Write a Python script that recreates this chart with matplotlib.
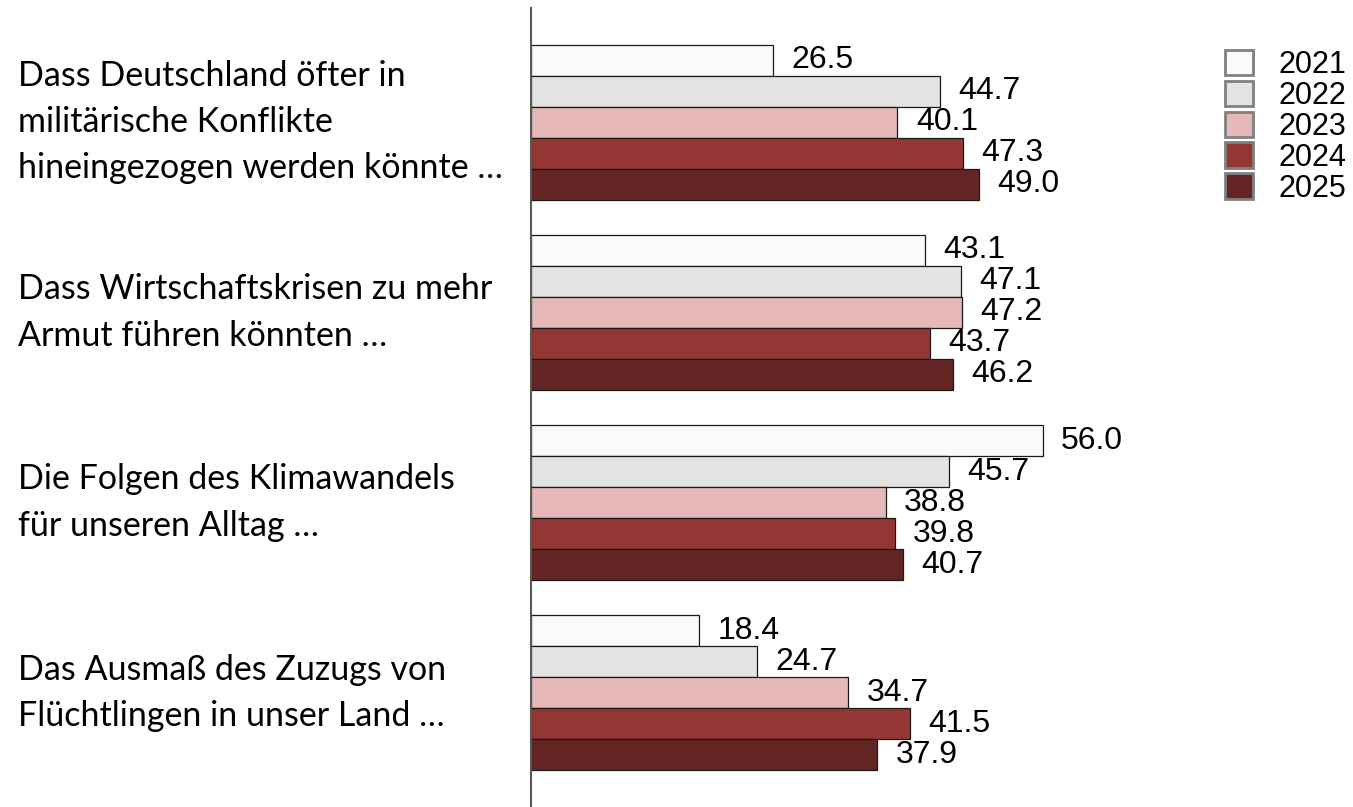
import matplotlib
matplotlib.use('Agg')
import matplotlib.pyplot as plt
import matplotlib.transforms as mtransforms
from matplotlib.patches import Patch
import numpy as np

categories = [
    "Dass Deutschland öfter in\nmilitärische Konflikte\nhineingezogen werden könnte …",
    "Dass Wirtschaftskrisen zu mehr\nArmut führen könnten …",
    "Die Folgen des Klimawandels\nfür unseren Alltag …",
    "Das Ausmaß des Zuzugs von\nFlüchtlingen in unser Land …",
]
years = ["2021", "2022", "2023", "2024", "2025"]
values = {
    "2021": [26.5, 43.1, 56.0, 18.4],
    "2022": [44.7, 47.1, 45.7, 24.7],
    "2023": [40.1, 47.2, 38.8, 34.7],
    "2024": [47.3, 43.7, 39.8, 41.5],
    "2025": [49.0, 46.2, 40.7, 37.9],
}
colors = ["#FAFAFA", "#E3E3E3", "#E6B8B8", "#943634", "#632523"]

W, H = 1353, 807
fig = plt.figure(figsize=(W / 100, H / 100), dpi=100)
ax = fig.add_axes([531 / W, 0, (1200 - 531) / W, (H - 8) / H])

bar_h = 0.163
y = np.arange(len(categories))
for i, (yr, col) in enumerate(zip(years, colors)):
    pos = y + (i - 2) * bar_h
    ax.barh(pos, values[yr], height=bar_h, color=col, edgecolor='#1a1a1a', linewidth=0.9)
    for p, v in zip(pos, values[yr]):
        ax.text(v + 2.0, p, f"{v:.1f}", va='center', ha='left', fontsize=23,
                family='Liberation Sans', color='black')

ax.set_xlim(0, 73.2)
ax.set_ylim(3.6, -0.6)
for s in ['top', 'right', 'bottom']:
    ax.spines[s].set_visible(False)
ax.spines['left'].set_color('#595959')
ax.spines['left'].set_linewidth(1.5)
ax.set_xticks([])
ax.set_yticks([])

# category labels sit left of the axis, centred on each group
trans = mtransforms.blended_transform_factory(fig.transFigure, ax.transData)
for yy, lab in zip(y, categories):
    ax.text(18 / W, yy, lab, transform=trans, ha='left', va='center',
            fontsize=24.5, family='Lato', linespacing=1.55, color='black')

handles = [Patch(facecolor=c, edgecolor='#808080', linewidth=2) for c in colors]
fig.legend(handles, years, loc='upper left', bbox_to_anchor=(1225 / W, 1 - 50 / H),
           frameon=False, prop={'family': 'Liberation Sans', 'size': 22},
           handlelength=0.9, handleheight=0.9, labelspacing=0.02, handletextpad=0.85,
           borderpad=0, borderaxespad=0)

fig.savefig('out.png', dpi=100)
